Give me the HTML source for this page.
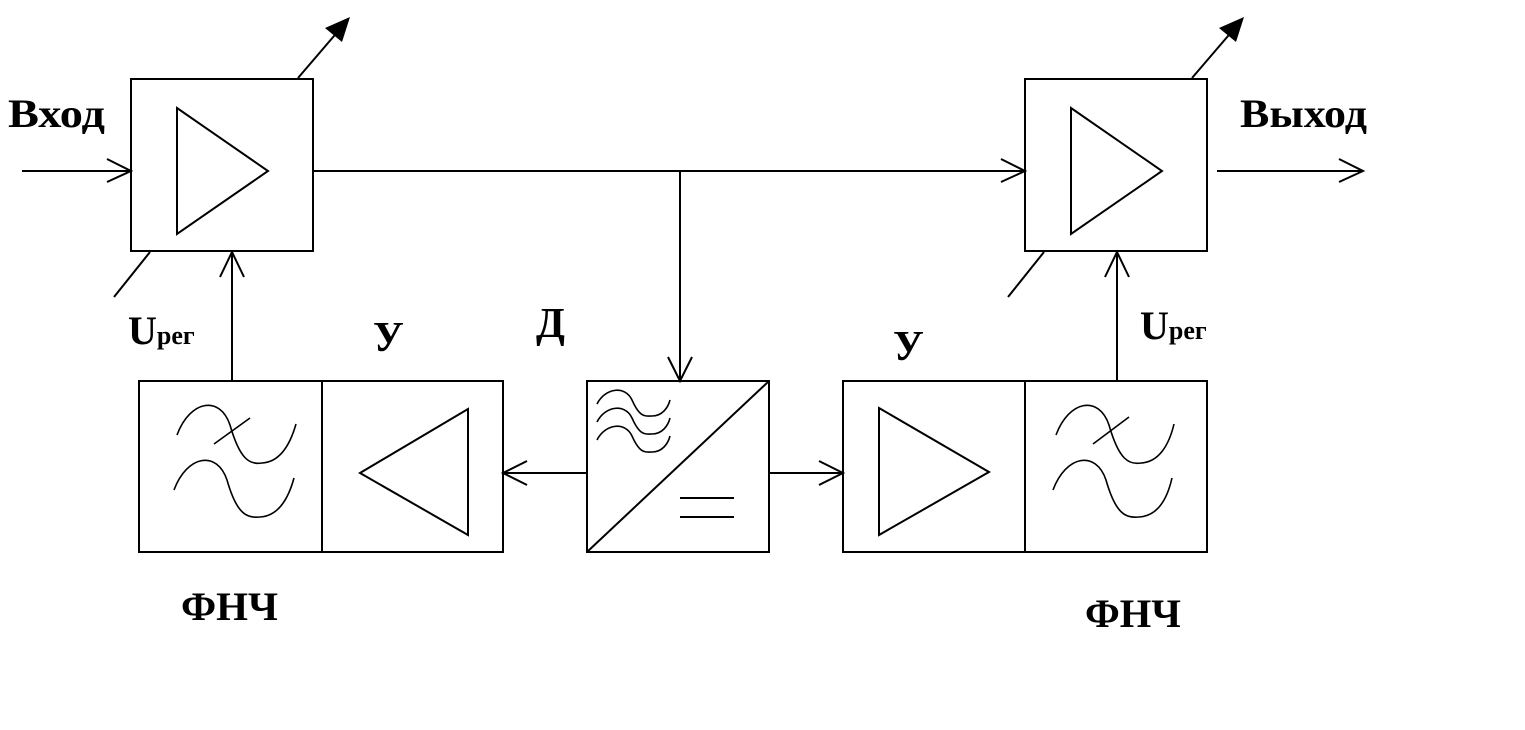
<!DOCTYPE html>
<html><head><meta charset="utf-8"><style>
html,body{margin:0;padding:0;background:#fff;}
svg{display:block;}
text{font-family:"Liberation Serif",serif;font-weight:bold;fill:#000;}
</style></head><body>
<svg width="1525" height="730" viewBox="0 0 1525 730" xmlns="http://www.w3.org/2000/svg">
<g fill="none" stroke="#000" stroke-width="2">
<rect x="131" y="79" width="182" height="172"/>
<polygon points="177,108 268,171 177,234"/>
<line x1="22" y1="171" x2="131" y2="171"/>
<polyline points="107,159 131,171 107,182"/>
<line x1="298" y1="78" x2="340" y2="29"/>
<line x1="150" y1="252" x2="114" y2="297"/>
<line x1="232" y1="380" x2="232" y2="252"/>
<polyline points="220,277 232,252 244,277"/>
<line x1="313" y1="171" x2="1025" y2="171"/>
<polyline points="1001,159 1025,171 1001,182"/>
<line x1="680" y1="171" x2="680" y2="381"/>
<polyline points="668,357 680,381 692,357"/>
<rect x="1025" y="79" width="182" height="172"/>
<polygon points="1071,108 1162,171 1071,234"/>
<line x1="1217" y1="171" x2="1363" y2="171"/>
<polyline points="1339,159 1363,171 1339,182"/>
<line x1="1192" y1="78" x2="1234" y2="29"/>
<line x1="1044" y1="252" x2="1008" y2="297"/>
<line x1="1117" y1="380" x2="1117" y2="252"/>
<polyline points="1105,277 1117,252 1129,277"/>
<rect x="139" y="381" width="183" height="171"/>
<rect x="322" y="381" width="181" height="171"/>
<polygon points="360,473 468,409 468,535"/>
<path d="M177,435 C190,400 220,395 230,425 C240,460 250,465 262,463 C280,462 290,445 296,424" stroke-width="1.6"/>
<path d="M174,490 C187,455 217,450 227,480 C237,515 247,518 260,517 C278,516 288,500 294,478" stroke-width="1.6"/>
<line x1="214" y1="444" x2="250" y2="418" stroke-width="1.6"/>
<rect x="587" y="381" width="182" height="171"/>
<line x1="587" y1="552" x2="769" y2="381"/>
<path d="M597,404 C605,388 625,385 632,400 C640,418 645,416 652,416 C662,416 668,408 670,400" stroke-width="1.6"/>
<path d="M597,422 C605,406 625,403 632,418 C640,436 645,434 652,434 C662,434 668,426 670,418" stroke-width="1.6"/>
<path d="M597,440 C605,424 625,421 632,436 C640,454 645,452 652,452 C662,452 668,444 670,436" stroke-width="1.6"/>
<line x1="680" y1="498" x2="734" y2="498"/>
<line x1="680" y1="517" x2="734" y2="517"/>
<line x1="587" y1="473" x2="503" y2="473"/>
<polyline points="527,461 503,473 527,485"/>
<line x1="769" y1="473" x2="843" y2="473"/>
<polyline points="819,461 843,473 819,485"/>
<rect x="843" y="381" width="182" height="171"/>
<rect x="1025" y="381" width="182" height="171"/>
<polygon points="879,408 989,472 879,535"/>
<path d="M1056,435 C1069,400 1099,395 1109,425 C1119,460 1129,465 1141,463 C1159,462 1169,445 1174,424" stroke-width="1.6"/>
<path d="M1053,490 C1066,455 1096,450 1106,480 C1116,515 1126,518 1139,517 C1157,516 1167,500 1172,478" stroke-width="1.6"/>
<line x1="1093" y1="444" x2="1129" y2="417" stroke-width="1.6"/>
</g>
<polygon points="350,17 342,42 325,28" fill="#000"/>
<polygon points="1244,17 1236,42 1219,28" fill="#000"/>
<text x="8" y="127" font-size="40" textLength="97" lengthAdjust="spacingAndGlyphs">Вход</text>
<text x="1240" y="127" font-size="40" textLength="127" lengthAdjust="spacingAndGlyphs">Выход</text>
<text x="128" y="344" font-size="40">U<tspan font-size="26">рег</tspan></text>
<text x="1140" y="339" font-size="40">U<tspan font-size="26">рег</tspan></text>
<text x="373" y="351" font-size="42">У</text>
<text x="536" y="337" font-size="42">Д</text>
<text x="893" y="360" font-size="42">У</text>
<text x="181" y="620" font-size="40" textLength="97" lengthAdjust="spacingAndGlyphs">ФНЧ</text>
<text x="1085" y="627" font-size="40" textLength="96" lengthAdjust="spacingAndGlyphs">ФНЧ</text>
</svg>
</body></html>
